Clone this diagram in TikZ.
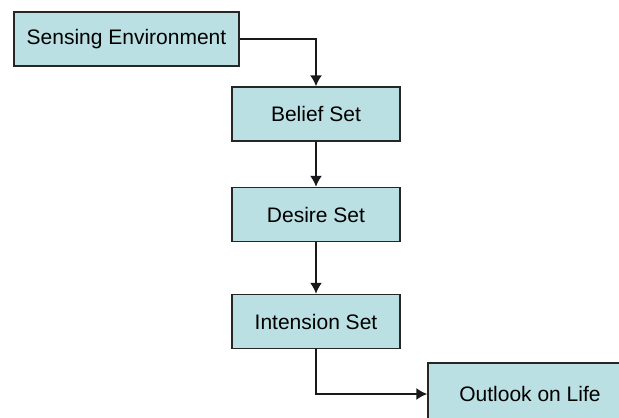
\documentclass[tikz,border=0pt]{standalone}
\usepackage{fontspec}
\setmainfont{Liberation Sans}
\usepackage{tikz}
\usetikzlibrary{arrows,arrows.meta}
\definecolor{boxfill}{RGB}{187,224,227}

\begin{document}
\begin{tikzpicture}[x=1pt,y=-1pt,
  stage/.style={draw=black!85,line width=1.5pt,fill=boxfill,inner sep=0pt,
    minimum height=54pt,font=\fontsize{21}{25}\selectfont},
  link/.style={-{Latex[length=11pt,width=12pt]},line width=1.5pt,draw=black!90}]
\useasboundingbox (0,0) rectangle (619,418);
\node[stage,minimum width=225pt] (sense) at (126.5,39) {Sensing Environment};
\node[stage,minimum width=168pt] (belief) at (316,114) {Belief Set};
\node[stage,minimum width=168pt] (desire) at (316,214.5) {Desire Set};
\node[stage,minimum width=168pt] (intension) at (316,321.5) {Intension Set};
\node[stage,minimum width=204pt,minimum height=62pt] (outlook) at (530,394) {Outlook on Life};
% connectors
\draw[link] (sense.east) -| (belief.north);
\draw[link] (belief) -- (desire);
\draw[link] (desire) -- (intension);
\draw[link] (intension.south) |- (outlook.west);
\end{tikzpicture}
\end{document}
